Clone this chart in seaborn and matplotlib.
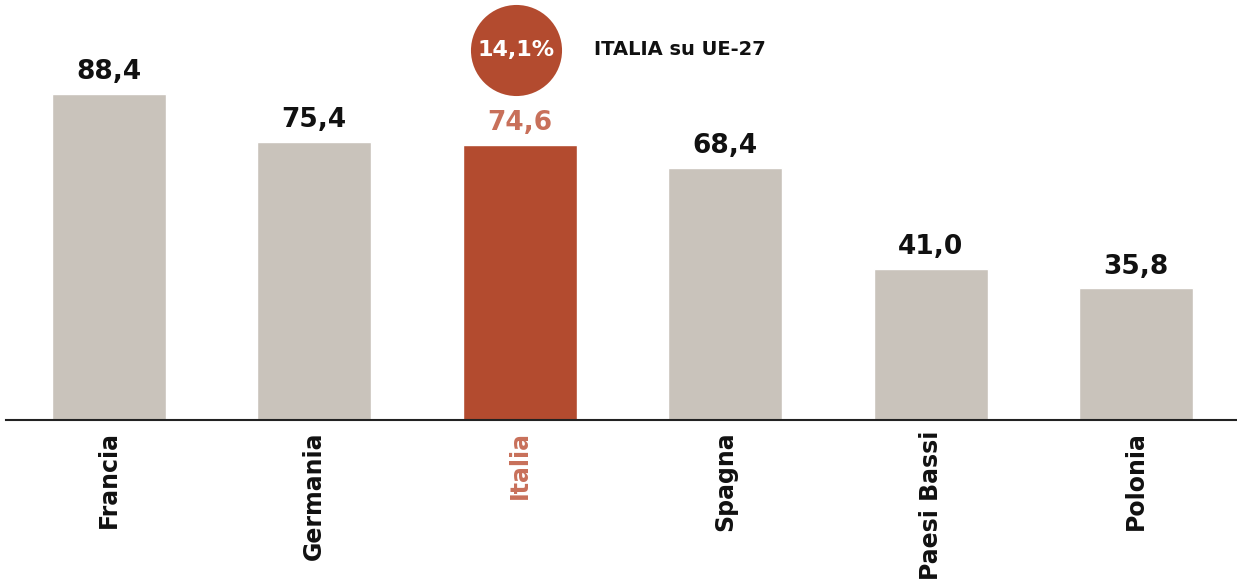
import pandas as pd
import seaborn as sns
import matplotlib.pyplot as plt

# Data
paesi = ["Francia", "Germania", "Italia", "Spagna", "Paesi Bassi", "Polonia"]
valori = [88.4, 75.4, 74.6, 68.4, 41.0, 35.8]
quota_italia = "14,1%"
nota = "ITALIA su UE-27"

grigio = "#C9C3BB"
rosso = "#B34B2F"
rosso_chiaro = "#C8705A"

df = pd.DataFrame({"paese": paesi, "valore": valori})
colori = [rosso if p == "Italia" else grigio for p in paesi]

sns.set_style("white")
plt.rcParams["font.family"] = ["DejaVu Sans"]

fig = plt.figure(figsize=(12.37, 5.85), dpi=100)
ax = fig.add_axes([6 / 1237, 165 / 585, 1 - 6 / 1237, 369 / 585])

sns.barplot(data=df, x="paese", y="valore", hue="paese", palette=colori,
            width=0.555, legend=False, ax=ax, saturation=1)

ax.set_xlim(-0.5, 5.49)
ax.set_ylim(0, 100)
ax.set_xlabel("")
ax.set_ylabel("")
ax.set_yticks([])
for s in ["top", "right", "left"]:
    ax.spines[s].set_visible(False)
ax.spines["bottom"].set_color("#222222")
ax.spines["bottom"].set_linewidth(1.5)

ax.tick_params(axis="x", length=0, pad=8)
ax.set_xticks(range(len(paesi)))
ax.set_xticklabels(paesi, rotation=90, fontsize=17, fontweight="bold", va="top")
for lbl in ax.get_xticklabels():
    if lbl.get_text() == "Italia":
        lbl.set_color(rosso_chiaro)
    else:
        lbl.set_color("#111111")

# value labels
for i, v in enumerate(valori):
    c = rosso_chiaro if paesi[i] == "Italia" else "#111111"
    ax.annotate(f"{v:.1f}".replace(".", ","), (i, v), xytext=(0, 6),
                textcoords="offset points", ha="center", va="bottom",
                fontsize=19, fontweight="bold", color=c, annotation_clip=False)

# circle badge
i_it = paesi.index("Italia")
ax.scatter([i_it - 0.02], [100.3], s=4300, color=rosso, clip_on=False, zorder=5,
           linewidths=0)
ax.text(i_it - 0.02, 100.3, quota_italia, ha="center", va="center", fontsize=16,
        fontweight="bold", color="white", zorder=6, clip_on=False)
ax.text(i_it + 0.36, 100.3, nota, ha="left", va="center", fontsize=14,
        fontweight="bold", color="#111111", clip_on=False)

plt.savefig("out.png", dpi=100)
